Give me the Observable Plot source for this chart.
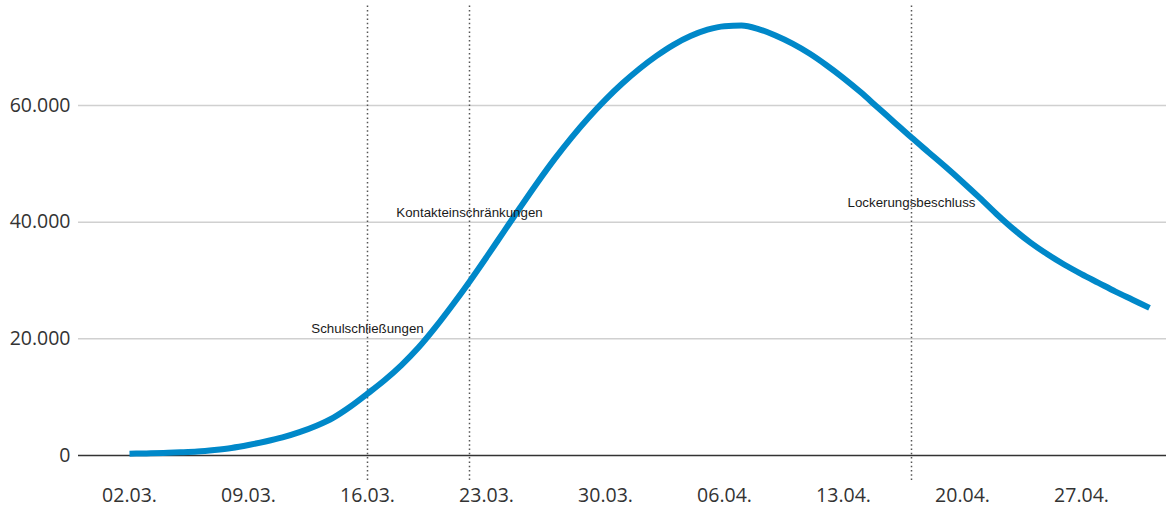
<!DOCTYPE html>
<html>
<head>
<meta charset="utf-8">
<script src="https://cdn.jsdelivr.net/npm/d3@7"></script>
<script src="https://cdn.jsdelivr.net/npm/@observablehq/plot@0.6"></script>
<style>
  html, body { margin: 0; padding: 0; background: #fff; }
  #chart svg { display: block; }
</style>
</head>
<body>
<div id="chart"></div>
<script>
// ---- Data ----
const startDate = "2020-03-02"; // first day of the series (daily)
const values = [
  300, 360, 440, 540, 680, 950, 1300, 1800, 2400, 3100,
  4000, 5100, 6500, 8400, 10600, 12900, 15500, 18500, 22000, 25800,
  29800, 34000, 38300, 42600, 46800, 50800, 54500, 57900, 61000, 63800,
  66300, 68500, 70400, 71900, 73000, 73600, 73700, 73100, 72000, 70600,
  68900, 66900, 64700, 62300, 59700, 57100, 54500, 52000, 49500, 46900,
  44200, 41400, 38800, 36500, 34500, 32700, 31100, 29600, 28100, 26700,
  25300
];
const tickDates = ["2020-03-02","2020-03-09","2020-03-16","2020-03-23","2020-03-30","2020-04-06","2020-04-13","2020-04-20","2020-04-27"];
const yTicks = [0, 20000, 40000, 60000];
const eventDates = ["2020-03-16", "2020-03-22", "2020-04-17"];
const eventLabels = ["Schulschließungen", "Kontakteinschränkungen", "Lockerungsbeschluss"];
const eventLabelY = [21800, 41700, 43300];

// ---- Build tables ----
const parse = d3.utcParse("%Y-%m-%d");
const start = parse(startDate);
const series = values.map((v, i) => ({date: d3.utcDay.offset(start, i), value: v}));
const events = eventDates.map((d, i) => ({date: parse(d), label: eventLabels[i], y: eventLabelY[i]}));

const de = d3.formatLocale({decimal: ",", thousands: ".", grouping: [3], currency: ["", " €"]});
const fmtY = de.format(",");
const fmtX = d3.utcFormat("%d.%m.");

const chart = Plot.plot({
  width: 1166,
  height: 509,
  marginLeft: 78,
  marginRight: 0,
  marginTop: 0,
  marginBottom: 54,
  style: {fontFamily: "'Open Sans', sans-serif", fontSize: "19.5px", color: "#333", background: "#fff"},
  x: {
    type: "utc",
    domain: [parse("2020-02-28"), parse("2020-05-02")],
    ticks: tickDates.map(parse),
    tickFormat: fmtX,
    tickSize: 0,
    tickPadding: 33,
    label: null
  },
  y: {
    domain: [0, 78000],
    ticks: yTicks,
    tickFormat: fmtY,
    tickSize: 0,
    tickPadding: 8,
    label: null
  },
  marks: [
    Plot.ruleY(yTicks.filter(t => t > 0), {stroke: "#d0d0d0", strokeWidth: 1.5}),
    Plot.ruleX(events, {x: "date", y1: -4300, y2: 77200, stroke: "#555", strokeWidth: 1.5, strokeDasharray: "1.5,2.8"}),
    Plot.ruleY([0], {stroke: "#333", strokeWidth: 1.5}),
    Plot.line(series, {x: "date", y: "value", stroke: "#0088c9", strokeWidth: 6, curve: "monotone-x", strokeLinecap: "butt", strokeLinejoin: "round"}),
    Plot.text(events, {x: "date", y: "y", text: "label", fontFamily: "'Liberation Sans', Arial, sans-serif", fontSize: 13.3, fill: "#1a1a1a", textAnchor: "middle"})
  ]
});
document.getElementById("chart").appendChild(chart);
</script>
</body>
</html>
